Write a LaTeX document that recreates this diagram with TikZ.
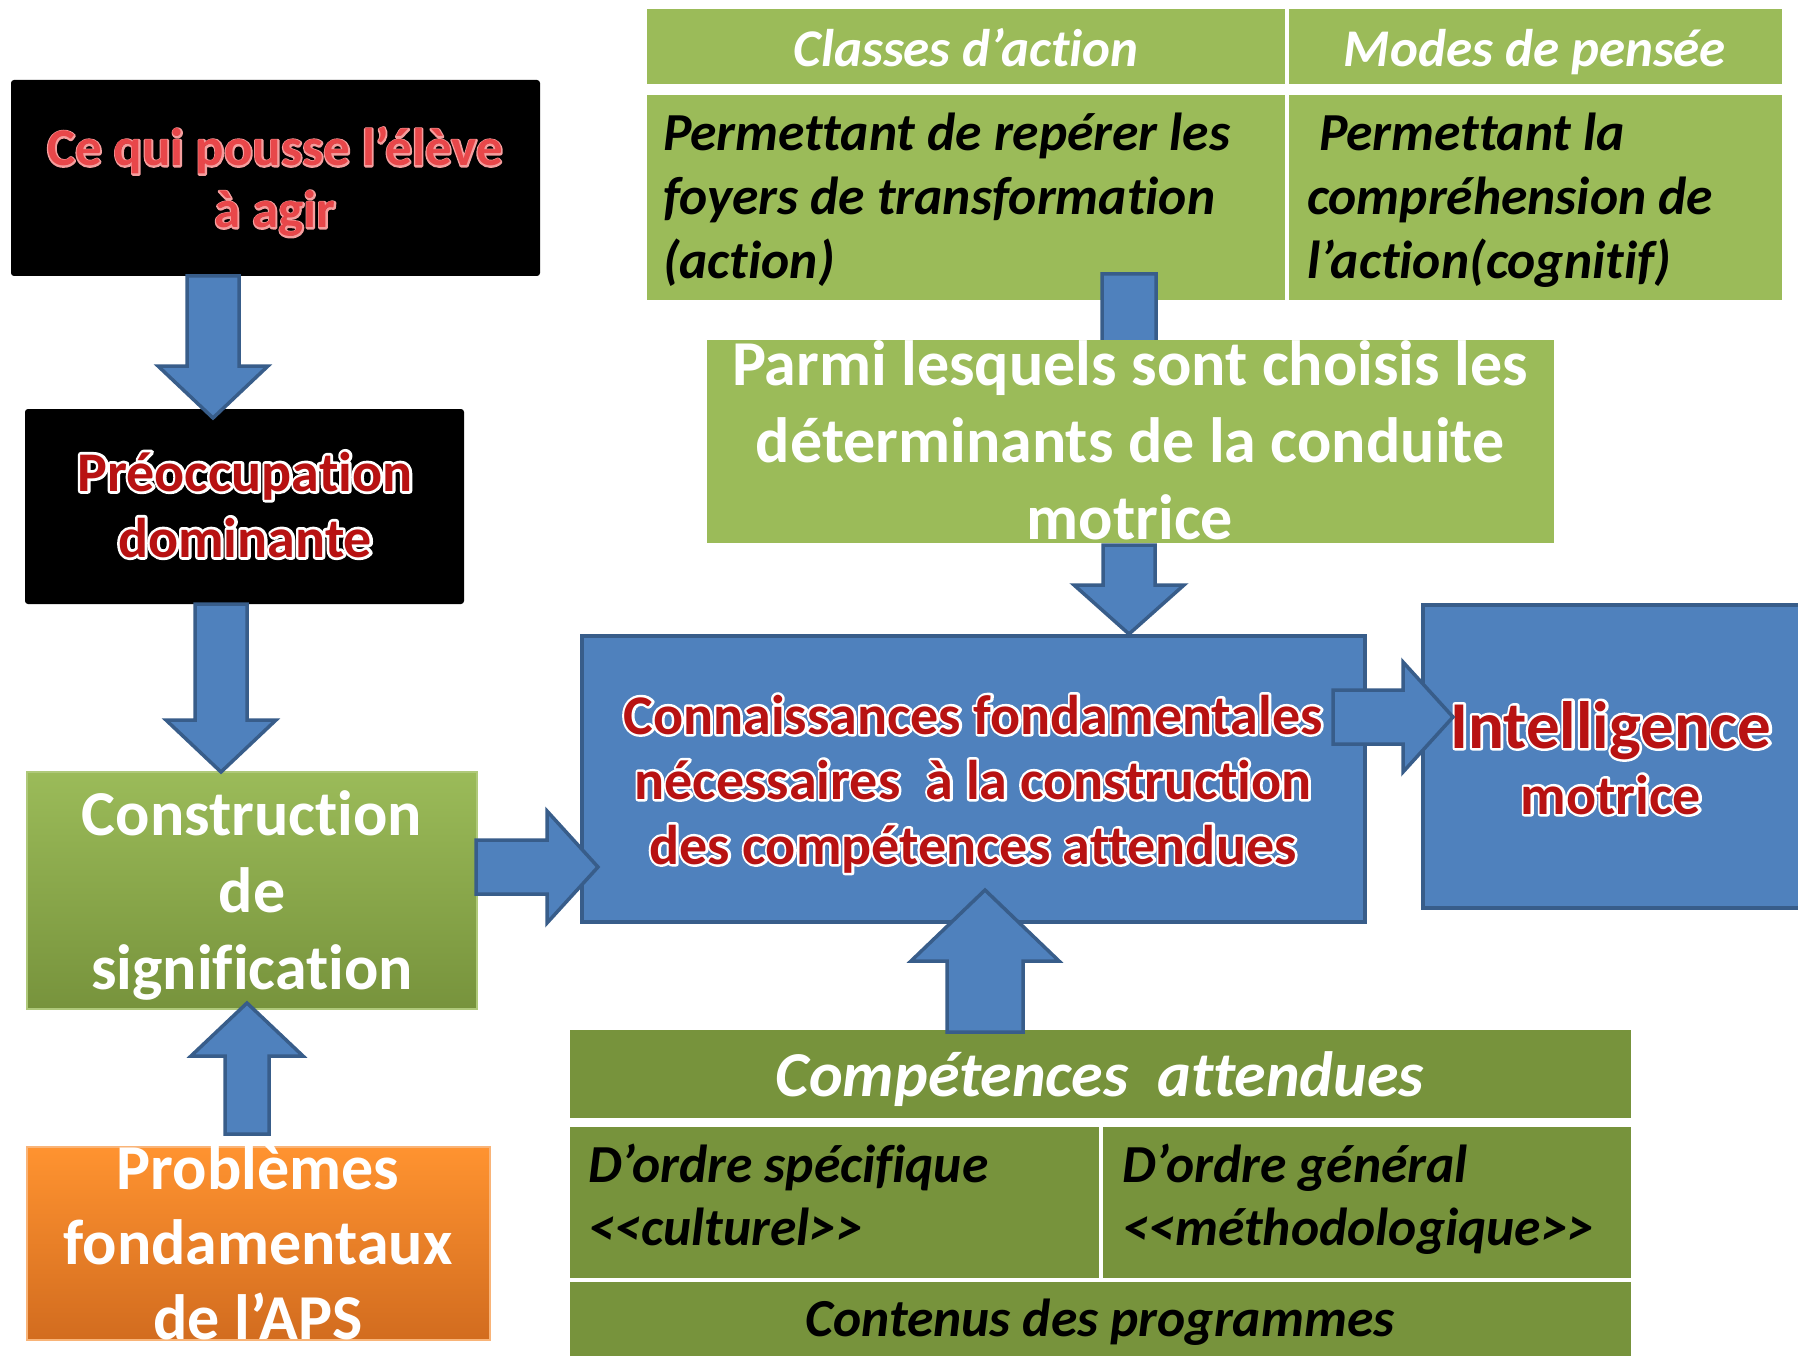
\documentclass[tikz,border=0pt]{standalone}
\usepackage{fontspec}
\setmainfont{Carlito}[Ligatures={NoCommon}]
\definecolor{gA}{HTML}{9BBB59}
\definecolor{gB}{HTML}{77933C}
\definecolor{bA}{HTML}{4F81BD}
\definecolor{bB}{HTML}{385D8A}
\definecolor{oA}{HTML}{FF9330}
\definecolor{oB}{HTML}{D26C1F}
\definecolor{oL}{HTML}{F9B478}
\definecolor{rDark}{HTML}{B81212}
\definecolor{rLight}{HTML}{E8474A}
\newcommand\ctab[1]{\begin{tabular}[t]{@{}c@{}}#1\end{tabular}}
\newcommand\ltab[1]{\begin{tabular}[t]{@{}l@{}}#1\end{tabular}}
% outlined text: a stroked copy behind (stroke colour rgb, stroke width), then the filled text
\newcommand\outl[3]{\rlap{\special{pdf:literal direct #1 RG #2 w 1 j 1 Tr}#3\special{pdf:literal direct 0 Tr}}#3}
\newcommand\fsz[2]{\fontsize{#1}{#2}\selectfont}
% vertical block arrow: cx, ystart, ybase, ytip, shaft half width, head half width
\newcommand\varr[6]{\filldraw[barrow] (#1-#5,#2) -- (#1+#5,#2) -- (#1+#5,#3) -- (#1+#6,#3) -- (#1,#4) -- (#1-#6,#3) -- (#1-#5,#3) -- cycle;}
% horizontal block arrow: cy, xstart, xbase, xtip, shaft half width, head half width
\newcommand\harr[6]{\filldraw[barrow] (#2,#1-#5) -- (#3,#1-#5) -- (#3,#1-#6) -- (#4,#1) -- (#3,#1+#6) -- (#3,#1+#5) -- (#2,#1+#5) -- cycle;}
\tikzset{
  box/.style={anchor=north west, inner sep=0pt, outer sep=0pt},
  blackbox/.style={box, fill=black, rounded corners=3pt},
  bluebox/.style={box, fill=bA, draw=bB, line width=4pt},
  cell/.style={box, draw=white, line width=4pt},
  barrow/.style={fill=bA, draw=bB, line width=3.5pt, line join=miter},
  txt/.style={inner sep=0pt, outer sep=0pt, anchor=base},
}
\begin{document}
\begin{tikzpicture}[x=1pt,y=-1pt]
\useasboundingbox (0,0) rectangle (1798,1356);
\fill[white] (0,0) rectangle (1798,1356);

% ---------- top table ----------
\node[cell, fill=gA, minimum width=642pt, minimum height=79pt] (ca) at (645,7) {};
\node[cell, fill=gA, minimum width=497pt, minimum height=79pt] (mp) at (1287,7) {};
\node[cell, fill=gA, minimum width=642pt, minimum height=209pt] (pa) at (645,93) {};
\node[cell, fill=gA, minimum width=497pt, minimum height=209pt] (pc) at (1287,93) {};
\node[txt, text=white, font=\fsz{53}{60}\bfseries\itshape] (ca-t) at (966,67) {Classes d’action};
\node[txt, text=white, font=\fsz{53}{60}\bfseries\itshape] (mp-t) at (1535,67) {Modes de pensée};
\node[txt, anchor=base west, text=black, font=\fsz{53.5}{64}\bfseries\itshape] (pa-t) at (663,151)
  {\ltab{Permettant de repérer les\\foyers de transformation\\(action)}};
\node[txt, anchor=base west, text=black, font=\fsz{53.5}{64}\bfseries\itshape] (pc-t) at (1307,151)
  {\ltab{\ Permettant la\\compréhension de\\l’action(cognitif)}};

% arrow from table into "Parmi" (head hidden)
\varr{1129}{274}{400}{420}{27}{55}

% ---------- Parmi ----------
\node[box, fill=gA, minimum width=847pt, minimum height=203pt] (parmi) at (707,340) {};
\node[txt, text=white, font=\fsz{64}{77}\bfseries] (parmi-t) at (1130,385)
  {\ctab{Parmi lesquels sont choisis les\\déterminants de la conduite\\motrice}};

% ---------- left column ----------
\node[blackbox, minimum width=529pt, minimum height=196pt] (ce) at (11,80) {};
\node[txt, text=rLight, font=\fsz{53}{62}\bfseries] (ce-t) at (275,166)
  {\outl{0.96 0.62 0.62}{3}{\ctab{Ce qui pousse l’élève\\à agir}}};

\node[blackbox, minimum width=439pt, minimum height=195pt] (preo) at (25,409) {};
\node[txt, text=rDark, font=\fsz{56}{66}\bfseries] (preo-t) at (245,491)
  {\outl{1 1 1}{5.5}{\ctab{Préoccupation\\dominante}}};

\node[box, top color=gA, bottom color=gB, draw=gA!80!white, line width=1.5pt,
  minimum width=450pt, minimum height=237pt] (constr) at (27,772) {};
\node[txt, text=white, font=\fsz{64}{77}\bfseries] (constr-t) at (252,835)
  {\ctab{Construction\\de\\signification}};

\node[box, top color=oA, bottom color=oB, draw=oL, line width=1.5pt,
  minimum width=463pt, minimum height=193pt] (prob) at (27,1147) {};
\node[txt, text=white, font=\fsz{64}{75}\bfseries] (prob-t) at (258,1189)
  {\ctab{Problèmes\\fondamentaux\\de l’APS}};

% ---------- centre / right ----------
\node[bluebox, minimum width=783pt, minimum height=286pt] (conn) at (582,636) {};
\node[txt, text=rDark, font=\fsz{56}{65}\bfseries] (conn-t) at (973,734)
  {\outl{1 1 1}{5}{\ctab{Connaissances fondamentales\\nécessaires\ \ à la construction\\des compétences attendues}}};

\node[bluebox, minimum width=380pt, minimum height=303pt] (intel) at (1423,605) {};
\node[txt, text=rDark, font=\fsz{67}{67}\bfseries] (intel-t) at (1611,748) {\outl{1 1 1}{5}{Intelligence}};
\node[txt, text=rDark, font=\fsz{56}{56}\bfseries] (mot-t) at (1611,814) {\outl{1 1 1}{5}{motrice}};

% ---------- bottom table ----------
\node[cell, fill=gB, minimum width=1065pt, minimum height=92pt] (comp) at (568,1028) {};
\node[cell, fill=gB, minimum width=533pt, minimum height=155pt] (os) at (568,1125) {};
\node[cell, fill=gB, minimum width=532pt, minimum height=155pt] (og) at (1101,1125) {};
\node[cell, fill=gB, minimum width=1065pt, minimum height=80pt] (cont) at (568,1280) {};
\node[txt, text=white, font=\fsz{64}{64}\bfseries\itshape] (comp-t) at (1100,1096) {Compétences\ \ attendues};
\node[txt, anchor=base west, text=black, font=\fsz{53.5}{63}\bfseries\itshape] (os-t) at (588,1182)
  {\ltab{D’ordre spécifique\\<{}<culturel>{}>}};
\node[txt, anchor=base west, text=black, font=\fsz{53.5}{63}\bfseries\itshape] (og-t) at (1122,1182)
  {\ltab{D’ordre général\\<{}<méthodologique>{}>}};
\node[txt, text=black, font=\fsz{53.5}{60}\bfseries\itshape] (cont-t) at (1100,1336) {Contenus des programmes};

% ---------- block arrows ----------
\varr{213}{276}{366}{418}{26}{55}      % ce -> preo
\varr{221}{604}{720}{772}{26}{55}      % preo -> constr
\varr{247}{1134}{1056}{1003}{22}{56}   % prob -> constr
\harr{867}{476}{547}{598}{27}{56}      % constr -> conn
\harr{717}{1333}{1403}{1453}{27}{55}   % conn -> intel
\varr{1129}{545}{585}{634}{26}{55}     % parmi -> conn
\varr{985}{1032}{961}{890}{38}{74}     % comp -> conn
\end{tikzpicture}
\end{document}
